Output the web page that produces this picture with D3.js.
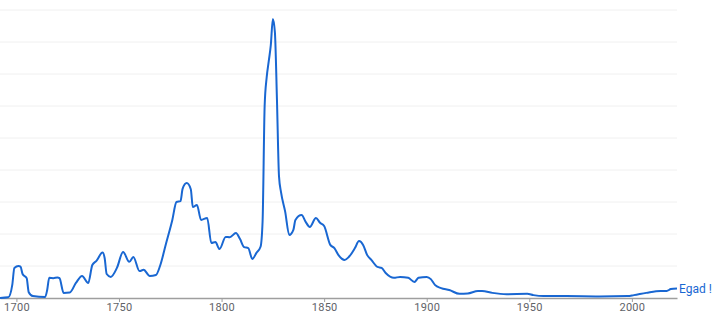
<!DOCTYPE html>
<html>
<head>
<meta charset="utf-8">
<script src="https://cdn.jsdelivr.net/npm/d3@7"></script>
<style>
  body { margin: 0; background: #fff; }
  svg { display: block; font-family: Roboto, sans-serif; }
</style>
</head>
<body>
<script>
'use strict';

// series: "Egad !" (values in grid units)
var years = [1692, 1696, 1698, 1699, 1701, 1702, 1703, 1705, 1706, 1708,
    1714, 1715, 1716, 1718, 1720, 1721, 1723, 1726, 1729, 1732,
    1735, 1737, 1739, 1742, 1743, 1744, 1746, 1749, 1752, 1755,
    1757, 1760, 1762, 1765, 1768, 1770, 1773, 1776, 1778, 1780,
    1781, 1783, 1785, 1786, 1788, 1790, 1793, 1795, 1797, 1799,
    1802, 1804, 1807, 1809, 1811, 1813, 1815, 1817, 1819, 1820,
    1821, 1822, 1823, 1824, 1825, 1826, 1827, 1828, 1829, 1831,
    1833, 1835, 1836, 1839, 1841, 1843, 1846, 1848, 1850, 1853,
    1855, 1857, 1860, 1862, 1865, 1867, 1869, 1871, 1873, 1876,
    1878, 1880, 1884, 1887, 1891, 1894, 1896, 1900, 1902, 1904,
    1907, 1911, 1916, 1920, 1925, 1927, 1932, 1939, 1949, 1952,
    1957, 1968, 1984, 1998, 2001, 2007, 2014, 2017, 2019, 2022];

var values = [0, 0.02, 0.42, 0.94, 1.0, 0.98, 0.75, 0.62, 0.18, 0.06,
    0.03, 0.25, 0.63, 0.62, 0.64, 0.62, 0.16, 0.17, 0.47, 0.69,
    0.47, 1.03, 1.16, 1.42, 1.25, 0.75, 0.66, 0.94, 1.44, 1.13,
    1.28, 0.84, 0.88, 0.69, 0.72, 1.0, 1.72, 2.44, 3.0, 3.03,
    3.41, 3.59, 3.4, 2.84, 2.91, 2.44, 2.5, 1.72, 1.75, 1.53,
    1.91, 1.9, 2.03, 1.84, 1.59, 1.56, 1.22, 1.41, 1.6, 2.4,
    6.0, 6.9, 7.4, 7.9, 8.72, 8.3, 6.2, 3.8, 3.3, 2.7,
    1.97, 2.13, 2.44, 2.59, 2.38, 2.22, 2.5, 2.35, 2.25, 1.66,
    1.56, 1.34, 1.19, 1.28, 1.56, 1.78, 1.66, 1.34, 1.19, 0.97,
    0.94, 0.78, 0.63, 0.66, 0.63, 0.5, 0.63, 0.66, 0.59, 0.41,
    0.31, 0.25, 0.13, 0.14, 0.22, 0.22, 0.16, 0.12, 0.13, 0.09,
    0.06, 0.06, 0.05, 0.06, 0.09, 0.16, 0.22, 0.22, 0.28, 0.3];

var seriesName = 'Egad !';
var xTicks = [1700, 1750, 1800, 1850, 1900, 1950, 2000];
var yGrid = [1, 2, 3, 4, 5, 6, 7, 8, 9];

var width = 723, height = 319;

var x = d3.scaleLinear().domain([1692, 2022]).range([0, 677]);
var y = d3.scaleLinear().domain([0, 9]).range([298, 10]);

var svg = d3.select('body')
    .append('svg')
    .attr('width', width)
    .attr('height', height);

// horizontal gridlines
svg.append('g')
    .selectAll('line')
    .data(yGrid)
    .enter()
    .append('line')
    .attr('x1', 0)
    .attr('x2', 677)
    .attr('y1', function (d) { return y(d); })
    .attr('y2', function (d) { return y(d); })
    .style('stroke', '#f0f0f0')
    .style('stroke-width', 1);

// x axis
var xAxis = svg.append('g')
    .attr('transform', 'translate(0,' + y(0) + ')')
    .call(d3.axisBottom(x).tickValues(xTicks).tickFormat(d3.format('d')).tickSize(4).tickSizeOuter(0));

xAxis.select('.domain').style('stroke', '#9e9e9e').style('stroke-width', 1.5);
xAxis.selectAll('.tick line').style('stroke', '#9e9e9e');
xAxis.selectAll('.tick text')
    .attr('dy', '0.95em')
    .attr('y', 3)
    .style('fill', '#5f6368')
    .style('font-size', '11px')
    .style('font-family', 'Roboto, sans-serif')
    .style('letter-spacing', '0.3px');

var data = years.map(function (yr, i) { return {year: yr, value: values[i]}; });

var line = d3.line()
    .x(function (d) { return x(d.year); })
    .y(function (d) { return y(d.value); })
    .curve(d3.curveMonotoneX);

svg.append('path')
    .datum(data)
    .attr('d', line)
    .style('fill', 'none')
    .style('stroke', '#1967d2')
    .style('stroke-width', 2)
    .style('stroke-linejoin', 'round');

// series label at the end of the line
var last = data[data.length - 1];
svg.append('text')
    .attr('x', x(last.year) + 2)
    .attr('y', y(last.value) + 1)
    .attr('dominant-baseline', 'middle')
    .text(seriesName)
    .style('fill', '#1967d2')
    .style('font-size', '12px');
</script>
</body>
</html>
